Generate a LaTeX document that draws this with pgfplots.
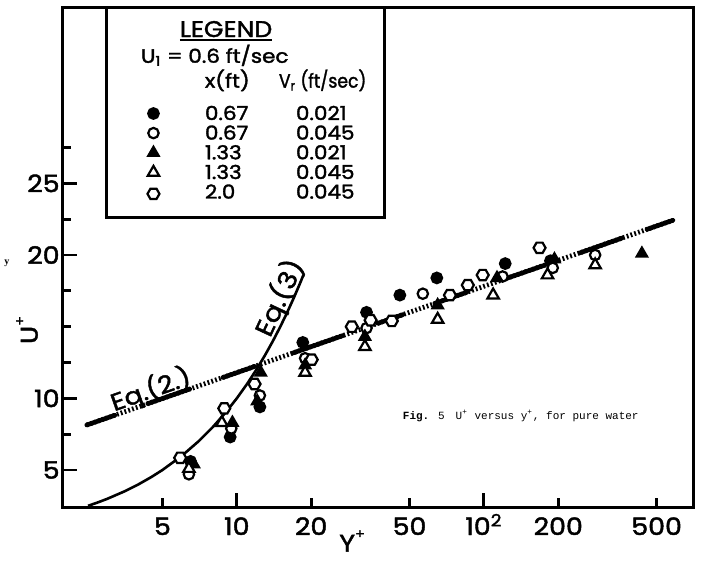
\documentclass[border=0pt]{standalone}
\usepackage{fontspec}
\setmainfont{Poppins}[FakeBold=1.8, FakeStretch=1.12]
\newfontfamily\capfont{Liberation Mono}
\newfontfamily\serfont{Liberation Serif}
\usepackage{graphicx}
\usepackage{pgfplots}
\pgfplotsset{compat=1.18}

\pgfdeclareplotmark{hexagon}{%
  \pgfpathmoveto{\pgfpointpolar{0}{\pgfplotmarksize}}%
  \pgfpathlineto{\pgfpointpolar{60}{\pgfplotmarksize}}%
  \pgfpathlineto{\pgfpointpolar{120}{\pgfplotmarksize}}%
  \pgfpathlineto{\pgfpointpolar{180}{\pgfplotmarksize}}%
  \pgfpathlineto{\pgfpointpolar{240}{\pgfplotmarksize}}%
  \pgfpathlineto{\pgfpointpolar{300}{\pgfplotmarksize}}%
  \pgfpathclose
  \pgfusepathqfillstroke}

\newcommand\legfont{\fontsize{9.6bp}{10bp}\selectfont}
\newcommand\legendhead{\fontsize{11.3bp}{11.5bp}\selectfont\setbox0\hbox{LEGEND}\rlap{\rule[-1.9bp]{\wd0}{0.9bp}}\box0}
\newcommand\lrow[2]{\makebox[78.5bp][l]{\makebox[45.5bp][l]{#1}#2}}
\newcommand\supp[1]{\raisebox{0.55em}{\fontsize{6.5bp}{6.5bp}\selectfont #1}}

\pgfplotsset{
  legimg/.style={legend image code/.code={\path (-11bp,0bp) (11bp,0bp); \draw[##1,mark repeat=1] plot coordinates {(0bp,0bp)};}},
  s1/.style={only marks, legimg, mark=*, mark size=2.8bp, mark options={fill=black, draw=black, line width=0.8bp, solid}},
  s2/.style={only marks, legimg, mark=*, mark size=2.6bp, mark options={fill=white, draw=black, line width=1.1bp, solid}},
  s3/.style={only marks, legimg, mark=triangle*, mark size=3.3bp, mark options={fill=black, draw=black, line width=0.8bp, solid}},
  s4/.style={only marks, legimg, mark=triangle*, mark size=3.3bp, mark options={fill=white, draw=black, line width=1.1bp, solid}},
  s5/.style={only marks, legimg, mark=hexagon, mark size=3bp, mark options={fill=white, draw=black, line width=1.1bp, solid}},
}

\begin{document}
\begin{tikzpicture}
\begin{axis}[
  scale only axis, width=315bp, height=250bp,
  xmode=log, xmin=1.98, xmax=702, ymin=2.42, ymax=37.3,
  clip=false,
  axis line style={line width=1.5bp},
  every tick/.style={line width=1.4bp, black},
  tick align=inside, tick pos=left,
  xtick={10,100}, xticklabels={10,10\textsuperscript{2}},
  extra x ticks={5,20,50,200,500}, extra x tick labels={5,20,50,200,500},
  extra x tick style={major tick length=4.5bp, tick align=inside, tick pos=left},
  xminorticks=false,
  major tick length=7bp, minor tick length=4bp,
  ytick={5,10,20,25}, yticklabels={5,10,20,25},
  minor ytick={7.5,12.5,15,17.5,22.5,27.5},
  /pgf/number format/assume math mode=true,
  tick label style={font=\fontsize{12bp}{12bp}\selectfont},
  xticklabel style={anchor=base, yshift=-14bp},
  yticklabel style={inner xsep=1.5bp},
  xlabel={Y\supp{+}}, ylabel={U\supp{+}},
  label style={font=\fontsize{12bp}{12bp}\selectfont},
  xlabel style={at={(axis description cs:0.459,-0.068)}, anchor=center},
  ylabel style={at={(axis description cs:-0.057,0.354)}, anchor=center, rotate=0},
  legend style={at={(rel axis cs:0.0698,1)}, anchor=north west, draw=black, line width=1.5bp,
    fill=white, outer sep=0pt, inner xsep=11.5bp, inner ysep=7.5bp, row sep=3.3bp, column sep=14bp,
    cells={anchor=west}, nodes={inner sep=0pt, text height=6.5bp, text depth=0bp}, font=\legfont},
]
\addlegendimage{empty legend}
\addlegendentry[text height=7.5bp,text depth=3.1bp]{\makebox[78.5bp][l]{\hspace*{-12.5bp}\legendhead}}
\addlegendimage{empty legend}
\addlegendentry[text depth=2.6bp]{\makebox[78.5bp][l]{\hspace*{-32bp}U\textsubscript{1} = 0.6 ft/sec}}
\addlegendimage{empty legend}
\addlegendentry[text depth=6.4bp]{\makebox[78.5bp][l]{\makebox[37bp][l]{x(ft)}\scalebox{0.8}[1]{V\textsubscript{r} (ft/sec)}}}

% Eq.(3): U+ = y+
\addplot[forget plot, line width=1.3bp] coordinates {
 (2.5,2.5) (2.75,2.75) (3,3) (3.5,3.5) (4,4) (4.5,4.5) (5,5) (6,6) (7,7) (8,8) (9,9) (10,10)
 (11,11) (12,12) (13,13) (14,14) (15,15) (16,16) (17,17) (18,18) (18.6,18.6)};
% Eq.(2): log law, hatched part
\addplot[forget plot, line width=2.4bp, dash pattern=on 0.9bp off 1.1bp] coordinates {(2.47,8.14) (582,22.42)};
% Eq.(2): solid parts
\addplot[forget plot, line width=2.3bp, line cap=round, unbounded coords=jump] coordinates {
 (2.47,8.14) (3.21,8.82) (nan,nan)
 (4.36,9.63) (6.45,10.65) (nan,nan)
 (8.78,11.45) (11.83,12.23) (nan,nan)
 (16.85,13.16) (26.9,14.38) (nan,nan)
 (37.2,15.23) (47.0,15.84) (nan,nan)
 (63.3,16.62) (85.3,17.40) (nan,nan)
 (125,18.40) (177,19.30) (nan,nan)
 (245,20.15) (362,21.18) (nan,nan)
 (457,21.79) (582,22.42)};

\addplot[s1] coordinates {(6.5,5.6) (9.4,7.3) (12.4,9.4) (18.5,13.9) (33.5,16.0) (45.7,17.2) (64.5,18.4) (122,19.4) (186,19.6)};
\addlegendentry{\lrow{0.67}{0.021}}
\addplot[s2] coordinates {(6.4,4.7) (9.5,7.9) (12.4,10.2) (18.9,12.8) (33.5,14.9) (56.6,17.3) (119,18.5) (190,19.1) (282,20.0)};
\addlegendentry{\lrow{0.67}{0.045}}
\addplot[s3] coordinates {(6.7,5.4) (9.6,8.3) (12.5,11.8) (12.1,9.8) (18.9,12.3) (33,14.3) (65,16.5) (113,18.4) (193,19.7) (436,20.1)};
\addlegendentry{\lrow{1.33}{0.021}}
\addplot[s4] coordinates {(6.4,5.1) (8.7,8.3) (18.9,11.8) (33,13.6) (65,15.5) (109,17.2) (181,18.6) (282,19.3)};
\addlegendentry{\lrow{1.33}{0.045}}
\addplot[s5] coordinates {(5.9,5.85) (8.9,9.3) (11.8,11.0) (20.1,12.7) (29.2,15.0) (34.8,15.45) (42.4,15.4) (72.9,17.2) (86.1,17.9) (98.9,18.6) (168,20.5)};
\addlegendentry[text depth=1.75bp]{\lrow{2.0}{0.045}}

\node[rotate=19.3, anchor=base west, inner sep=0pt, font=\fontsize{12bp}{12bp}\selectfont] at (axis cs:3.18,9.08) {Eq.(2.)};
\node[rotate=65, anchor=center, inner sep=0pt, font=\fontsize{12.5bp}{12.5bp}\selectfont] at (axis cs:14.9,17.0) {Eq.(3)};
\node[anchor=center, inner sep=0pt, font=\capfont\fontsize{5.5bp}{6bp}\selectfont] at (axis cs:141,8.76) {\textbf{Fig.} 5\quad U\textsuperscript{+} versus y\textsuperscript{+}, for pure water};
\node[anchor=center, inner sep=0pt, font=\serfont\bfseries\fontsize{5bp}{5bp}\selectfont] at (axis description cs:-0.0889,0.488) {y};
\end{axis}
\pgfresetboundingbox
\path (current axis.south west) ++(-31.5bp,-28bp);
\path (current axis.north east) ++(4.5bp,3.5bp);
\end{tikzpicture}
\end{document}
